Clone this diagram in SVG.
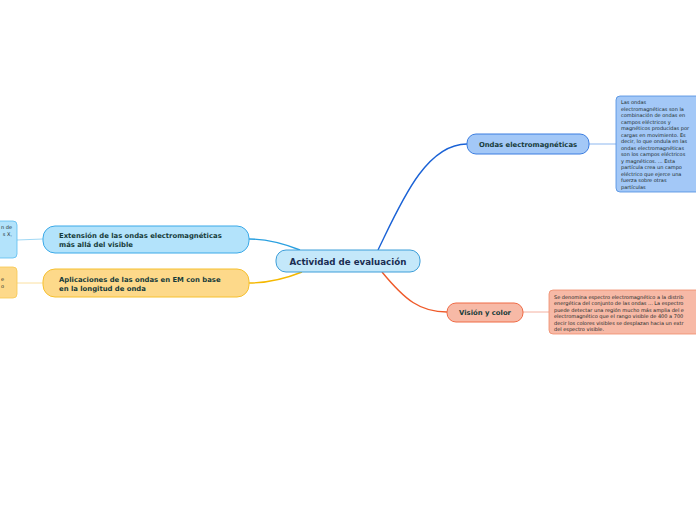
<svg xmlns="http://www.w3.org/2000/svg" width="696" height="520" viewBox="0 0 696 520">
<style>
text{font-family:"DejaVu Sans",Verdana,sans-serif;}
.t{font-weight:bold;fill:#163b3a;font-size:6.85px;}
.n{fill:#1a2828;font-size:5px;}
.c{fill:none;stroke-width:1.4;}
.l{fill:none;stroke-width:1;}
</style>
<rect width="696" height="520" fill="#ffffff"/>
<g id="connectors">
<path class="c" d="M378,250 C400,205 425,144 467,144" stroke="#1a62d6"/>
<path class="c" d="M382,272 C405,300 420,312 447,312" stroke="#ef5a2a"/>
<path class="c" d="M300,250 C280,242 265,239 249,239" stroke="#2aa0e0"/>
<path class="c" d="M302,272 C282,280 265,283 249,283" stroke="#f5b800"/>
<path class="l" d="M589,144 L616,144" stroke="#8db7ef"/>
<path class="l" d="M523,312 L549,312" stroke="#f4b0a0"/>
<path class="l" d="M43,239 L17,240" stroke="#9fd8f5"/>
<path class="l" d="M43,283 L17,283" stroke="#fbe0a0"/>
</g>
<g id="center">
<rect x="276" y="250" width="144" height="22" rx="10" fill="#c4e8fa" stroke="#3d9ed9" stroke-width="1"/>
<text x="348" y="264.5" text-anchor="middle" font-weight="bold" font-size="8.7" fill="#1a2d52">Actividad de evaluación</text>
</g>
<g id="ondas">
<rect x="467" y="134" width="122" height="20" rx="9" fill="#a3c8f7" stroke="#3b7de0" stroke-width="1"/>
<text class="t" x="528" y="146.5" text-anchor="middle">Ondas electromagnéticas</text>
</g>
<g id="ondas-note">
<rect x="616" y="96" width="90" height="96" rx="4" fill="#a3c8f7" stroke="#4a8ce0" stroke-width="0.8"/>
<text class="n">
<tspan x="621" y="104">Las ondas</tspan>
<tspan x="621" y="110.5">electromagnéticas son la</tspan>
<tspan x="621" y="117">combinación de ondas en</tspan>
<tspan x="621" y="123.5">campos eléctricos y</tspan>
<tspan x="621" y="130">magnéticos producidas por</tspan>
<tspan x="621" y="136.5">cargas en movimiento. Es</tspan>
<tspan x="621" y="143">decir, lo que ondula en las</tspan>
<tspan x="621" y="149.5">ondas electromagnéticas</tspan>
<tspan x="621" y="156">son los campos eléctricos</tspan>
<tspan x="621" y="162.5">y magnéticos. ... Esta</tspan>
<tspan x="621" y="169">partícula crea un campo</tspan>
<tspan x="621" y="175.5">eléctrico que ejerce una</tspan>
<tspan x="621" y="182">fuerza sobre otras</tspan>
<tspan x="621" y="188.5">partículas</tspan>
</text>
</g>
<g id="vision">
<rect x="447" y="303" width="76" height="19" rx="9" fill="#f7b9a6" stroke="#ef6a45" stroke-width="1"/>
<text class="t" x="485" y="315" text-anchor="middle">Visión y color</text>
</g>
<g id="vision-note">
<rect x="549" y="290" width="160" height="44" rx="4" fill="#f7b9a6" stroke="#ef8a6a" stroke-width="0.8"/>
<text class="n">
<tspan x="554" y="298.5">Se denomina espectro electromagnético a la distrib</tspan>
<tspan x="554" y="305">energética del conjunto de las ondas ... La espectro</tspan>
<tspan x="554" y="311.5">puede detectar una región mucho más amplia del e</tspan>
<tspan x="554" y="318">electromagnético que el rango visible de 400 a 700</tspan>
<tspan x="554" y="324.5">decir los colores visibles se desplazan hacia un extr</tspan>
<tspan x="554" y="331">del espectro visible.</tspan>
</text>
</g>
<g id="extension">
<rect x="43" y="226" width="206" height="27" rx="12" fill="#b3e3fb" stroke="#3aa9e8" stroke-width="1"/>
<text class="t"><tspan x="59" y="238">Extensión de las ondas electromagnéticas</tspan><tspan x="59" y="247">más allá del visible</tspan></text>
</g>
<g id="extension-note">
<rect x="-10" y="221" width="27" height="37" rx="4" fill="#b3e3fb" stroke="#5bbcf0" stroke-width="0.8"/>
<text class="n" text-anchor="end"><tspan x="12" y="229">n de</tspan><tspan x="12" y="235.5">s X,</tspan></text>
</g>
<g id="aplicaciones">
<rect x="43" y="269" width="206" height="28" rx="12" fill="#fdd98a" stroke="#f6c02f" stroke-width="1"/>
<text class="t"><tspan x="59" y="282">Aplicaciones de las ondas en EM con base</tspan><tspan x="59" y="291">en la longitud de onda</tspan></text>
</g>
<g id="aplicaciones-note">
<rect x="-10" y="267" width="27" height="31" rx="4" fill="#fdd98a" stroke="#f6c850" stroke-width="0.8"/>
<text class="n" text-anchor="end"><tspan x="4" y="281">e</tspan><tspan x="4" y="287.5">o</tspan></text>
</g>
</svg>
